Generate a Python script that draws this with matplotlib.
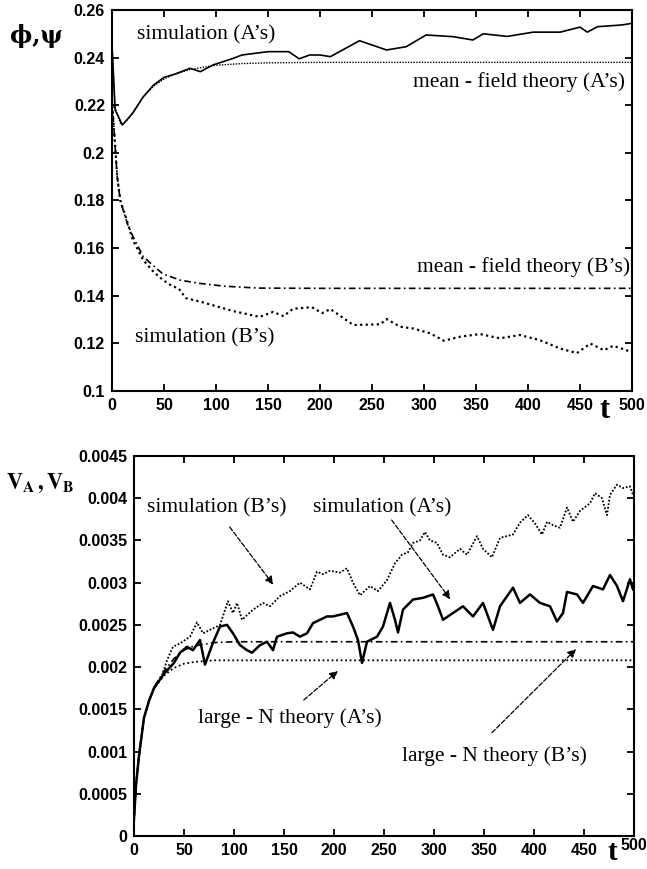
import numpy as np
import matplotlib
matplotlib.use('Agg')
import matplotlib.pyplot as plt
import matplotlib.transforms as mtransforms

plt.rcParams['font.family'] = 'Liberation Sans'
plt.rcParams['mathtext.fontset'] = 'stix'

# ---- upper panel: order parameters phi, psi ----
tSimA = [0, 3, 10, 20, 30, 40, 50, 60, 75, 85, 97, 116, 125, 150, 170, 180, 190, 200, 210,
         238, 264, 283, 302, 328, 347, 357, 380, 405, 431, 450, 457, 467, 490, 500]
simA = [0.245, 0.218, 0.2117, 0.2167, 0.2235, 0.2285, 0.2317, 0.2330, 0.2355, 0.2341, 0.2369,
        0.2396, 0.2411, 0.2425, 0.2425, 0.2395, 0.2411, 0.2411, 0.2404,
        0.2471, 0.2432, 0.2446, 0.2495, 0.2488, 0.2474, 0.2500, 0.2489, 0.2507, 0.2507,
        0.2528, 0.2507, 0.2530, 0.2537, 0.2544]

tMfA = [0, 3, 8, 10, 15, 20, 30, 40, 50, 60, 75, 100, 125, 150, 200, 500]
mfA = [0.245, 0.219, 0.2125, 0.212, 0.214, 0.217, 0.2235, 0.228, 0.231, 0.233, 0.235,
       0.2368, 0.2375, 0.2378, 0.238, 0.238]

tMfB = [0, 5, 8, 10, 15, 20, 30, 49, 66, 84, 108, 141, 200, 500]
mfB = [0.222, 0.19, 0.18, 0.177, 0.170, 0.165, 0.1564, 0.1491, 0.1465, 0.1452, 0.1440,
       0.1432, 0.1431, 0.1431]

tSimB = [0, 5, 8, 14, 20, 30, 40, 49, 58, 64, 71, 85, 97, 116, 142, 155, 165, 174, 192, 202,
         210, 232, 258, 264, 277, 290, 306, 319, 335, 354, 373, 392, 411, 431, 447, 460,
         473, 482, 498, 500]
simB = [0.222, 0.19, 0.18, 0.172, 0.1634, 0.155, 0.150, 0.1466, 0.1440, 0.1431, 0.1390,
        0.1375, 0.1360, 0.1336, 0.1311, 0.1332, 0.1314, 0.1345, 0.1352, 0.1327,
        0.1344, 0.1277, 0.1280, 0.1302, 0.1270, 0.1262, 0.1242, 0.1211, 0.1228, 0.1239,
        0.1221, 0.1235, 0.1214, 0.1178, 0.1159, 0.1199, 0.1171, 0.1190, 0.1166, 0.1170]

# ---- lower panel: V_A, V_B ----
tThA = [0, 2, 5, 10, 15, 20, 30, 40, 50, 60, 80, 100, 500]
thA = [0.0002, 0.0006, 0.00095, 0.0014, 0.0016, 0.00175, 0.0019, 0.00199, 0.00204,
       0.00206, 0.00208, 0.00208, 0.00208]
tThB = [0, 2, 5, 10, 15, 20, 30, 40, 50, 60, 80, 100, 150, 500]
thB = [0.0002, 0.0006, 0.00095, 0.0014, 0.0016, 0.00176, 0.00195, 0.0021, 0.0022, 0.00225,
       0.00229, 0.0023, 0.0023, 0.0023]

tVA = [0, 2, 5, 10, 15, 20, 30, 40, 46, 53, 59, 66, 71, 79, 86, 93, 99, 106, 113, 118,
       126, 133, 139, 143, 153, 159, 166, 173, 179, 186, 193, 199, 213, 219, 224, 228,
       233, 243, 249, 256, 261, 264, 269, 279, 289, 299, 304, 309, 319, 329, 339, 349,
       359, 366, 379, 386, 396, 406, 416, 423, 429, 433, 443, 449, 459, 469, 476, 483,
       489, 496, 499]
vA = [0.0002, 0.0006, 0.00095, 0.0014, 0.0016, 0.00175, 0.00192, 0.00205, 0.00217,
      0.00224, 0.0022, 0.00232, 0.00203, 0.00229, 0.00248, 0.0025, 0.0024, 0.00226,
      0.0022, 0.00217, 0.00226, 0.0023, 0.0022, 0.00236, 0.0024, 0.00241, 0.00236,
      0.0024, 0.00252, 0.00256, 0.0026, 0.0026, 0.00264, 0.00248, 0.00232, 0.00205,
      0.0023, 0.00236, 0.00248, 0.00276, 0.00256, 0.00241, 0.00268, 0.0028, 0.00282,
      0.00286, 0.00272, 0.00256, 0.00264, 0.00272, 0.0026, 0.00276, 0.00244, 0.00272,
      0.00294, 0.00276, 0.00286, 0.00276, 0.00272, 0.00254, 0.00264, 0.00289, 0.00286,
      0.00276, 0.00296, 0.00292, 0.00309, 0.00296, 0.00278, 0.00304, 0.00292]

tVB = [0, 2, 5, 10, 15, 20, 28, 33, 39, 46, 56, 63, 69, 76, 86, 94, 99, 103, 108, 119,
       129, 136, 146, 156, 166, 176, 183, 189, 196, 206, 213, 219, 226, 236, 244, 253,
       261, 268, 274, 279, 286, 291, 296, 303, 309, 316, 326, 333, 343, 349, 358, 366,
       379, 386, 394, 401, 408, 413, 419, 426, 433, 439, 446, 456, 461, 468, 473, 476,
       483, 489, 496, 499]
vB = [0.0002, 0.0006, 0.00095, 0.0014, 0.0016, 0.00176, 0.0019, 0.00208, 0.00224,
      0.00228, 0.00236, 0.00253, 0.0024, 0.00244, 0.0025, 0.00278, 0.00264, 0.00276,
      0.00256, 0.00268, 0.00276, 0.00272, 0.00284, 0.0029, 0.003, 0.00292, 0.00313,
      0.0031, 0.00314, 0.00312, 0.00317, 0.003, 0.00285, 0.00296, 0.0029, 0.00303,
      0.00323, 0.00333, 0.00336, 0.00347, 0.0035, 0.0036, 0.0035, 0.00347, 0.00333,
      0.0033, 0.0034, 0.00333, 0.00355, 0.0034, 0.0033, 0.00353, 0.00357, 0.00371,
      0.0038, 0.0037, 0.00357, 0.00372, 0.00368, 0.00365, 0.00389, 0.00372, 0.00385,
      0.00394, 0.00406, 0.004, 0.0038, 0.00404, 0.00416, 0.00412, 0.00414, 0.00404]

xticks = np.arange(0, 501, 50)

fig = plt.figure(figsize=(6.47, 8.69), dpi=100)
ax1 = fig.add_axes([0.1731, 0.5501, 0.8037, 0.4384])
ax2 = fig.add_axes([0.2071, 0.0380, 0.7728, 0.4373])


def style_axes(ax):
    for s in ax.spines.values():
        s.set_linewidth(1.5)
    ax.tick_params(direction='in', top=True, right=True, length=5, width=1.3,
                   labelsize=11.5, pad=5)
    for lab in ax.get_xticklabels() + ax.get_yticklabels():
        lab.set_fontweight('bold')


# upper panel
ax1.plot(tSimA, simA, 'k-', lw=1.2)
ax1.plot(tMfA, mfA, 'k', ls=(0, (1, 1)), lw=1.0)
ax1.plot(tMfB, mfB, 'k', ls=(0, (4, 2, 1, 2)), lw=1.2)
ax1.plot(tSimB, simB, 'k', ls=(0, (1, 1.5)), lw=1.6)
ax1.set_xlim(0, 500)
ax1.set_ylim(0.1, 0.26)
ax1.set_xticks(xticks)
ax1.set_yticks([0.1, 0.12, 0.14, 0.16, 0.18, 0.2, 0.22, 0.24, 0.26])
ax1.set_yticklabels(['0.1', '0.12', '0.14', '0.16', '0.18', '0.2', '0.22', '0.24', '0.26'])
style_axes(ax1)

serif = dict(family='Liberation Serif', fontsize=15.5)
ax1.text(24, 0.2495, 'simulation (A’s)', va='center', ha='left', **serif)
ax1.text(493, 0.2297, 'mean - field theory (A’s)', va='center', ha='right', **serif)
ax1.text(498, 0.1522, 'mean - field theory (B’s)', va='center', ha='right', **serif)
ax1.text(22, 0.1222, 'simulation (B’s)', va='center', ha='left', **serif)
fig.text(36 / 647, 1 - 36 / 869, 'ϕ,ψ', family='DejaVu Serif', fontweight='bold',
         fontsize=17, ha='center', va='center')
fig.text(605 / 647, 1 - 410 / 869, 't', family='Liberation Serif', fontweight='bold',
         fontsize=22, ha='center', va='center')

# lower panel
ax2.plot(tVB, vB, 'k', ls=(0, (1, 1)), lw=1.3)
ax2.plot(tVA, vA, 'k-', lw=1.8)
ax2.plot(tThB, thB, 'k', ls=(0, (4, 2, 1, 2)), lw=1.2)
ax2.plot(tThA, thA, 'k', ls=(0, (1, 1.5)), lw=1.3)
ax2.set_xlim(0, 500)
ax2.set_ylim(0, 0.0045)
ax2.set_xticks(xticks)
ax2.set_yticks(np.arange(0, 0.00451, 0.0005))
ax2.set_yticklabels(['0', '0.0005', '0.001', '0.0015', '0.002', '0.0025', '0.003',
                     '0.0035', '0.004', '0.0045'])
style_axes(ax2)
last = ax2.get_xticklabels()[-1]
last.set_transform(last.get_transform() +
                   mtransforms.ScaledTranslation(0, 0.05, fig.dpi_scale_trans))

arrow = dict(arrowstyle='-|>', ls='--', lw=0.9, color='k', mutation_scale=12)
ax2.text(13, 0.00389, 'simulation (B’s)', va='center', ha='left', **serif)
ax2.text(179, 0.00389, 'simulation (A’s)', va='center', ha='left', **serif)
ax2.annotate('', xy=(141, 0.00295), xytext=(94, 0.003685), arrowprops=arrow)
ax2.annotate('', xy=(318, 0.002776), xytext=(256, 0.003768), arrowprops=arrow)
ax2.text(155.5, 0.0014, 'large - N theory (A’s)', va='center', ha='center', **serif)
ax2.annotate('', xy=(206, 0.001975), xytext=(167.7, 0.00159), arrowprops=arrow)
ax2.text(360.5, 0.00094, 'large - N theory (B’s)', va='center', ha='center', **serif)
ax2.annotate('', xy=(444, 0.002236), xytext=(356, 0.0012), arrowprops=arrow)
fig.text(40 / 647, 1 - 483 / 869, r'$\mathbf{V_A\,,V_B}$', fontsize=16,
         ha='center', va='center')
fig.text(612 / 647, 1 - 866 / 869, 't', family='Liberation Serif', fontweight='bold',
         fontsize=21, ha='center', va='bottom')

fig.savefig('out.png', dpi=100)
